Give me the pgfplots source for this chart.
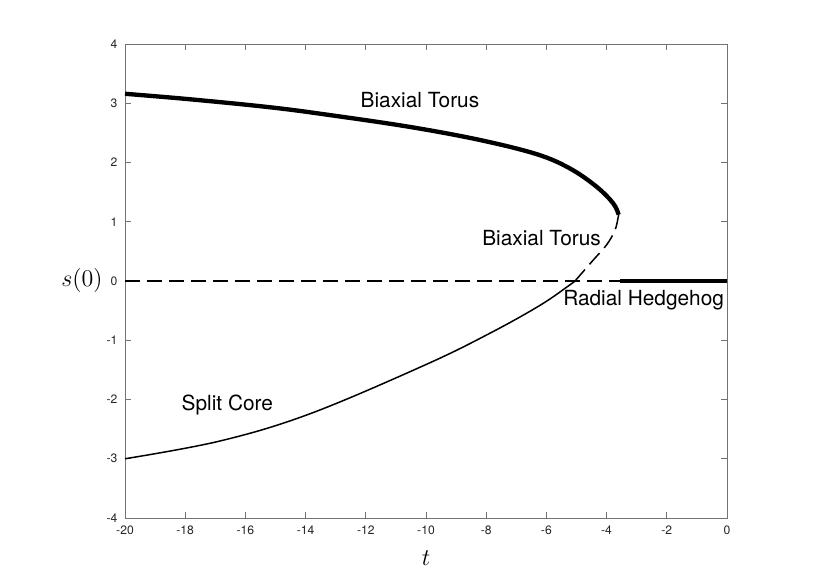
\documentclass[border=0pt]{standalone}
\usepackage{fontspec}
\setmainfont{TeX Gyre Heros}
\usepackage{pgfplots}
\pgfplotsset{compat=1.18}

\begin{document}
\begin{tikzpicture}
\begin{axis}[
  scale only axis, width=361.2pt, height=284.4pt,
  xmin=-20, xmax=0, ymin=-4, ymax=4,
  xtick={-20,-18,...,0}, ytick={-4,-3,...,4},
  tick align=inside, tick pos=both, major tick length=3.6pt,
  axis line style={black!55, line width=0.5pt},
  every tick/.style={black!55, line width=0.5pt},
  /pgf/number format/assume math mode=true,
  tick label style={font=\fontsize{7.3}{8.5}\selectfont, text=black!85},
  xticklabel style={yshift=-1pt},
  yticklabel style={xshift=-1pt},
  xlabel={$t$}, ylabel={$s(0)$},
  every axis x label/.style={at={(rel axis cs:0.5,0)}, anchor=north, yshift=-16pt, font=\fontsize{14}{16}\selectfont},
  every axis y label/.style={at={(rel axis cs:0,0.5)}, anchor=east, xshift=-10pt, font=\fontsize{14}{16}\selectfont},
  clip=false,
]
% upper branch (thick)
\addplot[black, line width=2.6pt, smooth, tension=0.6] coordinates {
  (-20,3.16) (-17.84,3.067) (-15.18,2.932) (-13.19,2.80) (-10.53,2.60) (-8.21,2.38)
  (-6.32,2.14) (-5.22,1.90) (-4.33,1.59) (-3.78,1.31) (-3.6,1.12)};
% unstable part (dashed)
\addplot[black, line width=0.9pt, dash pattern=on 9pt off 4.2pt, smooth, tension=0.6] coordinates {
  (-3.6,1.12) (-3.61,1.09) (-3.72,0.86) (-4.0,0.61) (-4.45,0.35) (-5.05,0.0)};
% lower branch (thin)
\addplot[black, line width=0.9pt, smooth, tension=0.6] coordinates {
  (-5.05,0.0) (-5.22,-0.065) (-6.21,-0.41) (-7.87,-0.88) (-10,-1.41)
  (-13.85,-2.24) (-16.84,-2.70) (-20,-3.0)};
% radial hedgehog s=0
\addplot[black, line width=0.9pt, dash pattern=on 9pt off 4.2pt] coordinates {(-20,0) (-3.55,0)};
\addplot[black, line width=2.6pt] coordinates {(-3.55,0) (0,0)};
\node[font=\fontsize{12.5}{15}\selectfont] at (axis cs:-10.2,3.05) {Biaxial Torus};
\node[font=\fontsize{12.5}{15}\selectfont] at (axis cs:-6.16,0.73) {Biaxial Torus};
\node[font=\fontsize{12.5}{15}\selectfont] at (axis cs:-2.77,-0.32) {Radial Hedgehog};
\node[font=\fontsize{12.5}{15}\selectfont] at (axis cs:-16.6,-2.09) {Split Core};
\coordinate (ll) at (rel axis cs:0,0);
\coordinate (ur) at (rel axis cs:1,1);
\end{axis}
\pgfresetboundingbox
\path ([shift={(-75pt,-37.8pt)}]ll) rectangle ([shift={(57.6pt,26.4pt)}]ur);
\end{tikzpicture}
\end{document}
